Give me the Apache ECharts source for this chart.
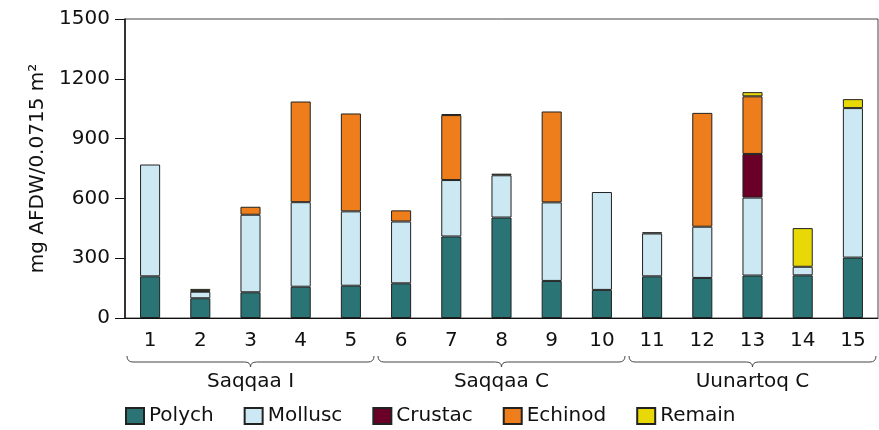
<!DOCTYPE html>
<html>
<head>
<meta charset="utf-8">
<script src="https://cdn.jsdelivr.net/npm/echarts@6/dist/echarts.min.js"></script>
<style>
  html, body { margin: 0; padding: 0; background: #fff; }
  #chart { width: 879px; height: 430px; }
</style>
</head>
<body>
<div id="chart"></div>
<script>
// core numbers (mg AFDW per 0.0715 m2)
const stations = ['1', '2', '3', '4', '5', '6', '7', '8', '9', '10', '11', '12', '13', '14', '15']
const sites = ['Saqqaa I', 'Saqqaa C', 'Uunartoq C']
const polych = [209, 99, 129, 157, 162, 174, 409, 504, 186, 141, 209, 201, 213, 214, 303]
const mollusc = [561, 33, 389, 424, 373, 310, 283, 212, 394, 491, 215, 257, 391, 43, 750]
const crustac = [0, 4, 0, 0, 0, 0, 0, 0, 0, 0, 6, 0, 219, 0, 0]
const echinod = [0, 0, 40, 505, 491, 56, 326, 0, 456, 0, 0, 571, 289, 0, 0]
const remain = [0, 10, 0, 0, 0, 0, 5, 8, 0, 0, 0, 0, 21, 194, 45]
const yTicks = [0, 300, 600, 900, 1200, 1500]

const font = 'DejaVu Sans'
const fs = 20
const groups = [
  { name: 'Polych', data: polych, color: '#2a7476' },
  { name: 'Mollusc', data: mollusc, color: '#cce8f2' },
  { name: 'Crustac', data: crustac, color: '#6a0028' },
  { name: 'Echinod', data: echinod, color: '#ee7d1b' },
  { name: 'Remain', data: remain, color: '#e8d906' }
]

const chart = echarts.init(document.getElementById('chart'))

const option = {
  animation: false,
  textStyle: { fontFamily: font },
  grid: {
    left: 125, right: 1, top: 19, bottom: 112,
    show: true, borderColor: '#444', borderWidth: 1
  },
  legend: {
    left: 120, top: 401,
    itemWidth: 18, itemHeight: 16, itemGap: 30,
    icon: 'rect',
    textStyle: { fontFamily: font, fontSize: fs, color: '#111' },
    data: groups.map(g => g.name)
  },
  xAxis: [{
    type: 'category',
    data: stations,
    axisLine: { lineStyle: { color: '#111', width: 1 } },
    axisTick: { length: 8, lineStyle: { color: '#111' } },
    axisLabel: { margin: 13, fontSize: fs, color: '#111', fontFamily: font }
  }, {
    type: 'category',
    data: sites,
    position: 'bottom',
    axisLine: { show: false },
    axisTick: { show: false },
    axisLabel: { margin: 54, fontSize: fs, color: '#111', fontFamily: font }
  }],
  yAxis: {
    type: 'value',
    min: yTicks[0], max: yTicks[yTicks.length - 1], interval: 300,
    name: 'mg AFDW/0.0715 m²',
    nameLocation: 'middle', nameRotate: 90, nameGap: 74,
    nameTextStyle: { fontSize: fs, color: '#111', fontFamily: font },
    axisLine: { show: true, lineStyle: { color: '#111', width: 1.5 } },
    axisTick: { show: true, length: 10, lineStyle: { color: '#111' } },
    axisLabel: { margin: 15, fontSize: fs, color: '#111', fontFamily: font, formatter: v => String(v) },
    splitLine: { show: false }
  },
  series: groups.map(g => ({
    name: g.name,
    type: 'bar',
    stack: 'total',
    barWidth: '40%',
    itemStyle: { color: g.color, borderColor: '#222', borderWidth: 1 },
    data: g.data.map(v => v === 0 ? '-' : v)
  }))
}
chart.setOption(option)

// curly braces under the station numbers, one per site
function drawBraces() {
  const px = i => chart.convertToPixel({ xAxisIndex: 0 }, i)
  const half = (px(1) - px(0)) / 2
  const yTop = 356, yLine = 362, yTip = 367, r = 6
  const st = { stroke: '#444', fill: null, lineWidth: 1 }
  const els = []
  sites.forEach((s, i) => {
    const x0 = px(i * 5) - half + 2
    const x1 = px(i * 5 + 4) + half - 2
    const xm = (x0 + x1) / 2
    els.push(
      { type: 'bezierCurve', shape: { x1: x0, y1: yTop, cpx1: x0, cpy1: yLine, x2: x0 + r, y2: yLine }, style: st },
      { type: 'line', shape: { x1: x0 + r, y1: yLine, x2: xm - r, y2: yLine }, style: st },
      { type: 'bezierCurve', shape: { x1: xm - r, y1: yLine, cpx1: xm, cpy1: yLine, x2: xm, y2: yTip }, style: st },
      { type: 'bezierCurve', shape: { x1: xm, y1: yTip, cpx1: xm, cpy1: yLine, x2: xm + r, y2: yLine }, style: st },
      { type: 'line', shape: { x1: xm + r, y1: yLine, x2: x1 - r, y2: yLine }, style: st },
      { type: 'bezierCurve', shape: { x1: x1 - r, y1: yLine, cpx1: x1, cpy1: yLine, x2: x1, y2: yTop }, style: st }
    )
  })
  chart.setOption({ graphic: els })
}
drawBraces()
</script>
</body>
</html>
